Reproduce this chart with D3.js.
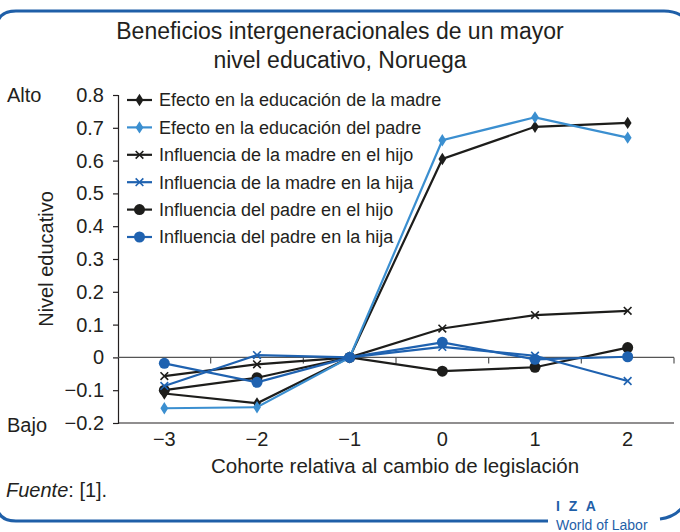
<!DOCTYPE html>
<html>
<head>
<meta charset="utf-8">
<script src="https://cdnjs.cloudflare.com/ajax/libs/d3/7.8.5/d3.min.js"></script>
<style>
  body { margin: 0; background: #fff; }
  svg text { font-family: "Liberation Sans", Arial, sans-serif; fill: #231f20; }
</style>
</head>
<body>
<div class="chart"></div>
<script>
var width = 680,
	height = 532;

// cohort relative to the law change
var cohorts = [-3, -2, -1, 0, 1, 2];
var yTicks = [0.8, 0.7, 0.6, 0.5, 0.4, 0.3, 0.2, 0.1, 0, -0.1, -0.2];

// series values
var madreEdu   = [-0.110, -0.140, 0, 0.605, 0.703, 0.715];
var padreEdu   = [-0.155, -0.152, 0, 0.662, 0.732, 0.670];
var madreHijo  = [-0.057, -0.021, 0, 0.088, 0.129, 0.142];
var madreHija  = [-0.087, 0.007, 0, 0.032, 0.005, -0.072];
var padreHijo  = [-0.100, -0.062, 0, -0.042, -0.030, 0.030];
var padreHija  = [-0.018, -0.076, 0, 0.046, -0.006, 0.002];

var labels = [
	"Efecto en la educación de la madre",
	"Efecto en la educación del padre",
	"Influencia de la madre en el hijo",
	"Influencia de la madre en la hija",
	"Influencia del padre en el hijo",
	"Influencia del padre en la hija"
];

//colours: black, light blue, dark blue
var black = "#1d1d1b",
	lightBlue = "#3b8fd0",
	darkBlue = "#1f62b0",
	frameBlue = "#1f5fa8";

var series = [
	{name: labels[0], values: madreEdu,  color: black,     marker: "diamond"},
	{name: labels[1], values: padreEdu,  color: lightBlue, marker: "diamond"},
	{name: labels[2], values: madreHijo, color: black,     marker: "cross"},
	{name: labels[3], values: madreHija, color: darkBlue,  marker: "cross"},
	{name: labels[4], values: padreHijo, color: black,     marker: "circle"},
	{name: labels[5], values: padreHija, color: darkBlue,  marker: "circle"}
];

// drawing order: blue lines mostly sit above the black ones
var drawOrder = [4, 2, 0, 1, 3, 5];

var svg = d3.select(".chart").append("svg")
	.attr("width", width)
	.attr("height", height);

// plot box ("top" is taken by window.top)
var plotLeft = 118, plotRight = 674, plotTop = 95, plotBottom = 423;

var x = d3.scaleBand().domain(cohorts).range([plotLeft, plotRight]);
var y = d3.scaleLinear().domain([-0.2, 0.8]).range([plotBottom, plotTop]);

function fmt(v){
	if (v === 0) return "0";
	return (v < 0 ? "\u2212" : "") + d3.format(".1f")(Math.abs(v));
}
function fmtInt(d){ return d < 0 ? "\u2212" + Math.abs(d) : String(d); }

// frame
svg.append("path")
	.attr("d", "M-4,200 L-4,31 Q-4,11 16,11 L664,11 Q682,11 690,25")
	.attr("fill", "none").attr("stroke", frameBlue).attr("stroke-width", 3);
svg.append("path")
	.attr("d", "M-4,400 L-4,501 Q-4,521 16,521 L548,521")
	.attr("fill", "none").attr("stroke", frameBlue).attr("stroke-width", 3);
svg.append("path")
	.attr("d", "M660,519 Q676,517 684,505")
	.attr("fill", "none").attr("stroke", frameBlue).attr("stroke-width", 3);

// title
svg.append("text").attr("x", 340).attr("y", 39).attr("text-anchor", "middle")
	.style("font-size", "23px").text("Beneficios intergeneracionales de un mayor");
svg.append("text").attr("x", 340).attr("y", 68).attr("text-anchor", "middle")
	.style("font-size", "23px").text("nivel educativo, Noruega");

// y axis
var yAxis = d3.axisLeft(y).tickValues(yTicks).tickSize(5).tickPadding(9).tickFormat(fmt);
var gy = svg.append("g").attr("transform", "translate(" + plotLeft + ",0)").call(yAxis);
gy.select(".domain").attr("stroke", "#231f20").attr("stroke-width", 1.2);
gy.selectAll(".tick line").attr("stroke", "#231f20").attr("stroke-width", 1.2);
gy.selectAll(".tick text").style("font-size", "20px");

// bottom line
svg.append("line").attr("x1", plotLeft).attr("x2", plotRight).attr("y1", y(-0.2)).attr("y2", y(-0.2))
	.attr("stroke", "#231f20").attr("stroke-width", 1.2);

// zero line with ticks at band edges
var gz = svg.append("g").attr("transform", "translate(0," + y(0) + ")");
gz.append("line").attr("x1", plotLeft).attr("x2", plotRight)
	.attr("stroke", "#555").attr("stroke-width", 1.2);
gz.selectAll(".edge").data(cohorts).enter().append("line")
	.attr("x1", function(d){ return x(d) + x.bandwidth(); })
	.attr("x2", function(d){ return x(d) + x.bandwidth(); })
	.attr("y1", 0).attr("y2", 6)
	.attr("stroke", "#555").attr("stroke-width", 1.2);

// x tick labels
var gx = svg.append("g").attr("transform", "translate(0," + y(-0.2) + ")")
	.call(d3.axisBottom(x).tickSize(0).tickPadding(9).tickFormat(fmtInt));
gx.select(".domain").remove();
gx.selectAll(".tick text").style("font-size", "20px");

// axis titles
svg.append("text").attr("x", 395).attr("y", 473).attr("text-anchor", "middle")
	.style("font-size", "20.5px").text("Cohorte relativa al cambio de legislación");
svg.append("text").attr("transform", "translate(53,259) rotate(-90)").attr("text-anchor", "middle")
	.style("font-size", "20px").text("Nivel educativo");
svg.append("text").attr("x", 7).attr("y", 102).style("font-size", "20px").text("Alto");
svg.append("text").attr("x", 7).attr("y", 432).style("font-size", "20px").text("Bajo");

// source
var src = svg.append("text").attr("x", 6).attr("y", 497).style("font-size", "20px");
src.append("tspan").style("font-style", "italic").text("Fuente");
src.append("tspan").text(": [1].");

// IZA logo
svg.append("text").attr("x", 556).attr("y", 511).style("font-size", "14px").style("font-weight", "bold")
	.style("fill", frameBlue).style("letter-spacing", "2.5px").text("I Z A");
svg.append("text").attr("x", 556).attr("y", 530).style("font-size", "14px")
	.style("fill", frameBlue).text("World of Labor");

// markers
function drawMarker(g, type, color, cx, cy){
	if (type === "diamond"){
		g.append("path").attr("d", d3.symbol().type(d3.symbolDiamond).size(44)())
			.attr("transform", "translate(" + cx + "," + cy + ") scale(1.1,1)")
			.attr("fill", color);
	} else if (type === "circle"){
		g.append("circle").attr("cx", cx).attr("cy", cy).attr("r", 5.5).attr("fill", color);
	} else {
		g.append("path").attr("d", d3.symbol().type(d3.symbolTimes).size(40)())
			.attr("transform", "translate(" + cx + "," + cy + ")")
			.attr("fill", "none").attr("stroke", color).attr("stroke-width", 1.6);
	}
}

var line = d3.line()
	.x(function(d, i){ return x(cohorts[i]) + x.bandwidth()/2; })
	.y(function(d){ return y(d); });

var plot = svg.append("g");
drawOrder.forEach(function(k){
	var s = series[k];
	plot.append("path").attr("d", line(s.values))
		.attr("fill", "none").attr("stroke", s.color).attr("stroke-width", 2.2);
	s.values.forEach(function(v, i){
		drawMarker(plot, s.marker, s.color, x(cohorts[i]) + x.bandwidth()/2, y(v));
	});
});

// legend
var leg = svg.append("g");
series.forEach(function(s, i){
	var ly = 100 + i * 27.4;
	leg.append("line").attr("x1", 127).attr("x2", 152).attr("y1", ly).attr("y2", ly)
		.attr("stroke", s.color).attr("stroke-width", 2.2);
	drawMarker(leg, s.marker, s.color, 139.5, ly);
	leg.append("text").attr("x", 159).attr("y", ly).attr("dy", "0.35em")
		.style("font-size", "18px").text(s.name);
});
</script>
</body>
</html>
